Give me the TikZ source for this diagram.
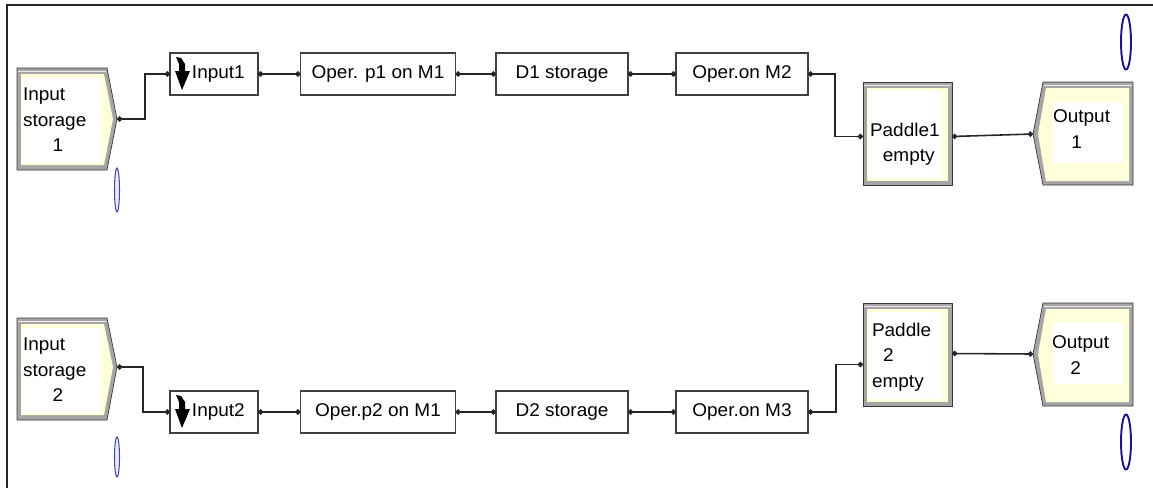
\documentclass[tikz,border=0pt]{standalone}
\usepackage{fontspec}
\setmainfont[FakeStretch=1.03]{Liberation Sans}
\usetikzlibrary{positioning, shapes.geometric, arrows.meta, calc}
\definecolor{paleyellow}{RGB}{255,255,218}
\definecolor{framegray}{RGB}{165,165,165}
\definecolor{ovalblue}{RGB}{25,25,135}

\begin{document}
\begin{tikzpicture}[
  x=0.02cm, y=-0.02cm,
  every node/.style={font=\fontsize{10.5}{14.5}\selectfont},
  opbox/.style={rectangle, draw=black!75, line width=0.8pt, fill=white, minimum height=0.84cm, inner sep=1pt, outer sep=0pt},
  frame/.style={fill=framegray, draw=gray!45!black, line width=0.4pt},
  padframe/.style={rectangle, frame, minimum width=1.78cm, minimum height=2.06cm, outer sep=0pt},
  padfill/.style={fill=paleyellow},
  blocktext/.style={rectangle, align=left, inner sep=0pt, outer sep=0pt, anchor=north west},
  link/.style={draw=black!85, line width=0.9pt, {Circle[length=3pt]}-{Circle[length=3pt]}},
  lamp/.style={ellipse, draw=ovalblue, line width=1.1pt, fill=white, minimum width=0.2cm, minimum height=1.1cm, inner sep=0pt},
  smalllamp/.style={ellipse, draw=ovalblue!80, line width=0.6pt, fill=blue!8, minimum width=0.1cm, inner sep=0pt},
  icon/.style={fill=black}
]
\useasboundingbox (0,0) rectangle (1153,488);

% ---------- Frame ----------
\draw[line width=1.2pt, black!85] (7,488) -- (7,5) -- (1153,5);

% ---------- Input storages ----------
\filldraw[frame] (17,68) -- (107,68) -- (117,119) -- (107,170) -- (17,170) -- cycle;
\fill[padfill] (21,74) -- (104,74) -- (113,119) -- (104,165) -- (21,165) -- cycle;
\fill[white] (22,78) rectangle (101,163);
\draw[gray!15] (18,71) -- (106,71);
\node[blocktext] (S1) at (23,88) {Input\\storage\\\hspace*{1.6em}1};
\coordinate (S1tip) at (117,119);

\filldraw[frame] (17,318) -- (107,318) -- (117,367) -- (107,420) -- (17,420) -- cycle;
\fill[padfill] (21,324) -- (104,324) -- (113,367) -- (104,415) -- (21,415) -- cycle;
\fill[white] (22,328) rectangle (101,413);
\draw[gray!15] (18,321) -- (106,321);
\node[blocktext] (S2) at (23,338) {Input\\storage\\\hspace*{1.6em}2};
\coordinate (S2tip) at (117,367);

% ---------- Process boxes, top ----------
\node[opbox, minimum width=1.76cm] (In1) at (214,74) {\hspace*{5pt}Input1};
\node[opbox, minimum width=3.1cm] (Op1) at (378,74) {Oper. p1 on M1};
\node[opbox, minimum width=2.64cm] (D1) at (562,74) {D1 storage};
\node[opbox, minimum width=2.64cm] (Op2) at (742,74) {Oper.on M2};

% ---------- Process boxes, bottom ----------
\node[opbox, minimum width=1.76cm] (In2) at (214,412) {\hspace*{5pt}Input2};
\node[opbox, minimum width=3.1cm] (Op3) at (378,412) {Oper.p2 on M1};
\node[opbox, minimum width=2.64cm] (D2) at (562,412) {D2 storage};
\node[opbox, minimum width=2.64cm] (Op4) at (742,412) {Oper.on M3};

% entry icons
\begin{scope}[shift={(In1.west)}]
  \fill[icon] (6,-17) -- (11,-16) -- (15,-10) -- (15,-3) -- (20,-3) -- (12,16) -- (5,-3) -- (9,-3) -- (9,-10) -- cycle;
\end{scope}
\begin{scope}[shift={(In2.west)}]
  \fill[icon] (6,-17) -- (11,-16) -- (15,-10) -- (15,-3) -- (20,-3) -- (12,16) -- (5,-3) -- (9,-3) -- (9,-10) -- cycle;
\end{scope}

% ---------- Paddles ----------
\node[padframe] (P1) at (907.5,133.5) {};
\fill[padfill] (867,88) rectangle (948,181);
\fill[white] (869,91) rectangle (942,178);
\draw[gray!15] (864,85) -- (951,85);
\node[blocktext] (P1text) at (870,123) {Paddle1\\\hspace*{0.7em}empty};

\node[padframe] (P2) at (907.5,354.5) {};
\fill[padfill] (867,309) rectangle (948,402);
\fill[white] (869,312) rectangle (942,399);
\draw[gray!15] (864,306) -- (951,306);
\node[blocktext] (P2text) at (872,323) {Paddle\\\hspace*{0.6em}2\\empty};

% ---------- Outputs ----------
\filldraw[frame] (1043,82) -- (1133,82) -- (1133,185) -- (1043,185) -- (1033,134) -- cycle;
\fill[padfill] (1046,88) -- (1129,88) -- (1129,181) -- (1046,181) -- (1038,134) -- cycle;
\fill[white] (1053,102) rectangle (1123,163);
\draw[gray!15] (1044,85) -- (1132,85);
\node[blocktext] (O1) at (1053,110) {Output\\\hspace*{1em}1};
\coordinate (O1tip) at (1033,134);

\filldraw[frame] (1043,303) -- (1133,303) -- (1133,406) -- (1043,406) -- (1033,354) -- cycle;
\fill[padfill] (1046,309) -- (1129,309) -- (1129,402) -- (1046,402) -- (1038,354) -- cycle;
\fill[white] (1053,323) rectangle (1123,384);
\draw[gray!15] (1044,306) -- (1132,306);
\node[blocktext] (O2) at (1052,336) {Output\\\hspace*{1em}2};
\coordinate (O2tip) at (1033,354);

% ---------- Ovals ----------
\node[lamp] (lampA) at (1126,42) {};
\node[lamp] (lampB) at (1126,442) {};
\node[smalllamp, minimum height=0.88cm] (lampC) at (117,190) {};
\node[smalllamp, minimum height=0.8cm] (lampD) at (117,457) {};

% ---------- Connectors ----------
\draw[link] (S1tip) -- ++(28,0) |- (In1.west);
\draw[link] (In1) -- (Op1);
\draw[link] (Op1) -- (D1);
\draw[link] (D1) -- (Op2);
\draw[link] (Op2.east) -- ++(27,0) |- ($(P1.west)+(0,3)$);
\draw[link] ($(P1.east)+(0,3)$) -- (O1tip);

\draw[link] (S2tip) -- ++(26,0) |- (In2.west);
\draw[link] (In2) -- (Op3);
\draw[link] (Op3) -- (D2);
\draw[link] (D2) -- (Op4);
\draw[link] (Op4.east) -- ++(28,0) |- ($(P2.west)+(0,10)$);
\draw[link] ($(P2.east)+(0,-1)$) -- (O2tip);

\end{tikzpicture}
\end{document}
